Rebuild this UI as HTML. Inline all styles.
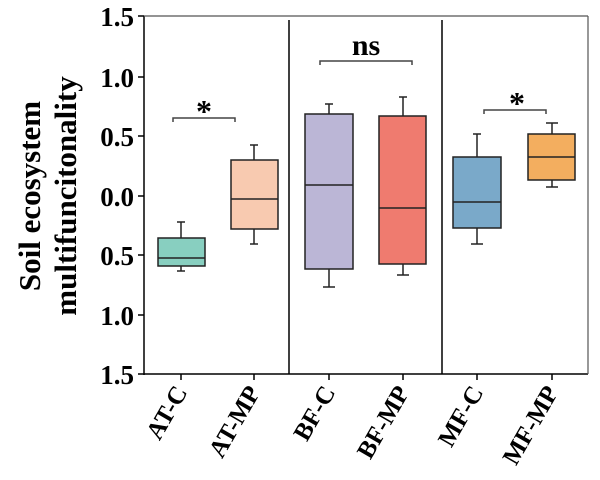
<!DOCTYPE html>
<html><head><meta charset="utf-8"><style>body{margin:0;background:#fff}svg{display:block}</style></head><body>
<svg width="600" height="480" xmlns="http://www.w3.org/2000/svg" font-family="Liberation Serif, serif" font-weight="bold">
<g stroke="#000" stroke-width="1.5" fill="none">
<line x1="144" y1="16" x2="144" y2="375"/>
<line x1="144" y1="374" x2="588" y2="374"/>
<line x1="144" y1="16" x2="588" y2="16" stroke="#555" stroke-width="1.2"/>
<line x1="588" y1="16" x2="588" y2="374" stroke="#555" stroke-width="1.2"/>
<line x1="289" y1="20" x2="289" y2="374"/>
<line x1="442" y1="20" x2="442" y2="374"/>
<g stroke-width="1.5">
<line x1="138" y1="16" x2="144" y2="16"/><line x1="138" y1="77" x2="144" y2="77"/><line x1="138" y1="136" x2="144" y2="136"/><line x1="138" y1="196" x2="144" y2="196"/><line x1="138" y1="255" x2="144" y2="255"/><line x1="138" y1="315" x2="144" y2="315"/><line x1="138" y1="374" x2="144" y2="374"/>
<line x1="181" y1="374" x2="181" y2="380"/><line x1="254" y1="374" x2="254" y2="380"/><line x1="329" y1="374" x2="329" y2="380"/><line x1="403" y1="374" x2="403" y2="380"/><line x1="477" y1="374" x2="477" y2="380"/><line x1="552" y1="374" x2="552" y2="380"/>
</g>
</g>
<g font-size="27" text-anchor="end">
<text x="134" y="26">1.5</text><text x="134" y="87">1.0</text><text x="134" y="146">0.5</text><text x="134" y="206">0.0</text><text x="134" y="265">0.5</text><text x="134" y="325">1.0</text><text x="134" y="384">1.5</text>
</g>
<g font-size="31" text-anchor="middle">
<text transform="translate(40,196) rotate(-90)">Soil ecosystem</text>
<text transform="translate(76,196) rotate(-90)">multifuncitonality</text>
</g>
<g stroke="#222" stroke-width="1.5">
<line x1="181" y1="222" x2="181" y2="271"/><line x1="177" y1="222" x2="185" y2="222"/><line x1="177" y1="271" x2="185" y2="271"/>
<line x1="254" y1="145" x2="254" y2="244"/><line x1="250" y1="145" x2="258" y2="145"/><line x1="250" y1="244" x2="258" y2="244"/>
<line x1="329" y1="104" x2="329" y2="287"/><line x1="325" y1="104" x2="333" y2="104"/><line x1="323" y1="287" x2="335" y2="287"/>
<line x1="403" y1="97" x2="403" y2="275"/><line x1="399" y1="97" x2="407" y2="97"/><line x1="397" y1="275" x2="409" y2="275"/>
<line x1="477" y1="134" x2="477" y2="244"/><line x1="473" y1="134" x2="481" y2="134"/><line x1="471" y1="244" x2="483" y2="244"/>
<line x1="552" y1="123" x2="552" y2="187"/><line x1="546" y1="123" x2="558" y2="123"/><line x1="546" y1="187" x2="558" y2="187"/>
<rect x="158" y="238" width="47" height="28" fill="#88cfc0"/><line x1="158" y1="258" x2="205" y2="258"/>
<rect x="231" y="160" width="47" height="69" fill="#f8cab0"/><line x1="231" y1="199" x2="278" y2="199"/>
<rect x="305" y="114" width="48" height="155" fill="#bbb6d6"/><line x1="305" y1="185" x2="353" y2="185"/>
<rect x="379" y="116" width="47" height="148" fill="#ef7b6f"/><line x1="379" y1="208" x2="426" y2="208"/>
<rect x="453" y="157" width="48" height="71" fill="#7aa9c9"/><line x1="453" y1="202" x2="501" y2="202"/>
<rect x="528" y="134" width="47" height="46" fill="#f3ae5f"/><line x1="528" y1="157" x2="575" y2="157"/>
</g>
<g stroke="#444" stroke-width="1.5" fill="none">
<polyline points="173,122 173,118 235,118 235,122"/>
<polyline points="320,65 320,61 412,61 412,65"/>
<polyline points="484,114 484,110 546,110 546,114"/>
</g>
<g text-anchor="middle">
<text x="204" y="122" font-size="32">*</text>
<text x="366" y="55" font-size="30">ns</text>
<text x="517" y="114" font-size="32">*</text>
</g>
<g font-size="25" text-anchor="end">
<text transform="translate(188,392) rotate(-60)">AT-C</text>
<text transform="translate(261,392) rotate(-60)">AT-MP</text>
<text transform="translate(336,392) rotate(-60)">BF-C</text>
<text transform="translate(410,392) rotate(-60)">BF-MP</text>
<text transform="translate(484,392) rotate(-60)">MF-C</text>
<text transform="translate(559,392) rotate(-60)">MF-MP</text>
</g>
</svg>
</body></html>
